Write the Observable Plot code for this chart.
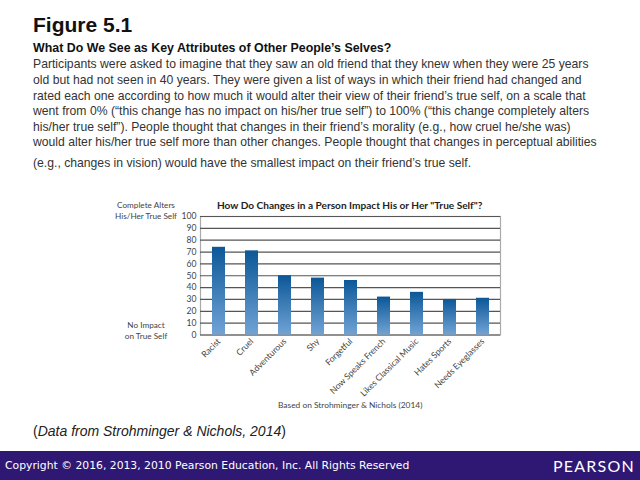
<!DOCTYPE html>
<html>
<head>
<meta charset="utf-8">
<script src="https://cdn.jsdelivr.net/npm/d3@7"></script>
<script src="https://cdn.jsdelivr.net/npm/@observablehq/plot@0.6"></script>
<style>
  html, body { margin: 0; padding: 0; background: #fff; }
  #page { position: relative; width: 640px; height: 480px; overflow: hidden; font-family: "Liberation Sans", Arial, sans-serif; }
  .abs { position: absolute; white-space: nowrap; }
  #fig { left: 33px; top: 13px; font-size: 21px; font-weight: bold; color: #111; }
  #sub { left: 33px; top: 41px; font-size: 12.4px; font-weight: bold; color: #111; }
  .para { left: 33px; font-size: 12.2px; color: #333; }
  .ct { font-family: Lato, "Open Sans", sans-serif; color: #444; }
  #chartTitle { left: 217px; top: 199px; font-size: 10.1px; font-weight: bold; color: #222; }
  .ylab { font-size: 8.2px; text-align: center; width: 80px; left: 106px; line-height: 10.5px; color: #444; }
  #based { left: 278px; top: 400px; font-size: 8.4px; color: #444; }
  #data { left: 33px; top: 423px; font-size: 14px; color: #222; }
  #footer { left: 0; top: 451px; width: 640px; height: 29px; background: #2e1874; }
  #copy { left: 5px; top: 459px; font-family: "DejaVu Sans", sans-serif; font-size: 10.8px; color: #fff; }
  #pearson { left: 553px; top: 456px; font-family: Lato, "Open Sans", sans-serif; font-size: 16px; letter-spacing: 1.2px; color: #fff; }
  #chart { position: absolute; left: 0; top: 190px; }
</style>
</head>
<body>
<div id="page">
  <div class="abs" id="fig">Figure 5.1</div>
  <div class="abs" id="sub">What Do We See as Key Attributes of Other People’s Selves?</div>
  <div class="abs para" style="top:57px">Participants were asked to imagine that they saw an old friend that they knew when they were 25 years</div>
  <div class="abs para" style="top:73px">old but had not seen in 40 years. They were given a list of ways in which their friend had changed and</div>
  <div class="abs para" style="top:89px">rated each one according to how much it would alter their view of their friend’s true self, on a scale that</div>
  <div class="abs para" style="top:104px">went from 0% (“this change has no impact on his/her true self”) to 100% (“this change completely alters</div>
  <div class="abs para" style="top:120px">his/her true self”). People thought that changes in their friend’s morality (e.g., how cruel he/she was)</div>
  <div class="abs para" style="top:135px">would alter his/her true self more than other changes. People thought that changes in perceptual abilities</div>
  <div class="abs para" style="top:156px">(e.g., changes in vision) would have the smallest impact on their friend’s true self.</div>

  <div id="chart"></div>
  <div class="abs ct" id="chartTitle">How Do Changes in a Person Impact His or Her "True Self"?</div>
  <div class="abs ct ylab" style="top:200px">Complete Alters<br>His/Her True Self</div>
  <div class="abs ct ylab" style="top:320px">No Impact<br>on True Self</div>
  <div class="abs ct" id="based">Based on Strohminger &amp; Nichols (2014)</div>

  <div class="abs" id="data">(<i>Data from Strohminger &amp; Nichols, 2014</i>)</div>

  <div class="abs" id="footer"></div>
  <div class="abs" id="copy">Copyright © 2016, 2013, 2010 Pearson Education, Inc. All Rights Reserved</div>
  <div class="abs" id="pearson">PEARSON</div>
</div>
<script>
const categories = ["Racist", "Cruel", "Adventurous", "Shy", "Forgetful", "Now Speaks French", "Likes Classical Music", "Hates Sports", "Needs Eyeglasses"];
const values = [74, 71, 50, 48, 46, 32, 36, 30, 31];
const yTicks = [0, 10, 20, 30, 40, 50, 60, 70, 80, 90, 100];

const data = categories.map((c, i) => ({category: c, value: values[i]}));

function gradientDefs() {
  const defs = d3.create("svg:defs");
  const g = defs.append("linearGradient")
    .attr("id", "barGrad")
    .attr("x1", 0).attr("y1", 0).attr("x2", 0).attr("y2", 1);
  g.append("stop").attr("offset", "0%").attr("stop-color", "#0b5797");
  g.append("stop").attr("offset", "100%").attr("stop-color", "#71a3d5");
  return defs.node();
}

const chart = Plot.plot({
  width: 640,
  height: 230,
  marginLeft: 200,
  marginRight: 140,
  marginTop: 26,
  marginBottom: 85.5,
  style: {fontFamily: "Lato, 'Open Sans', sans-serif", fontSize: "8.6px", color: "#444", background: "transparent"},
  x: {domain: categories, paddingInner: 0.62, paddingOuter: 0.3, label: null, tickSize: 0, tickRotate: -45, tickPadding: 5},
  y: {domain: [0, 100], ticks: yTicks, label: null, tickSize: 0, tickPadding: 4},
  marks: [
    gradientDefs,
    Plot.frame({stroke: "#aaa", strokeWidth: 1.2}),
    Plot.gridY(yTicks, {stroke: "#555", strokeOpacity: 1, strokeWidth: 1.2}),
    Plot.barY(data, {x: "category", y: "value", fill: "url(#barGrad)"})
  ]
});
document.getElementById("chart").appendChild(chart);
</script>
</body>
</html>
